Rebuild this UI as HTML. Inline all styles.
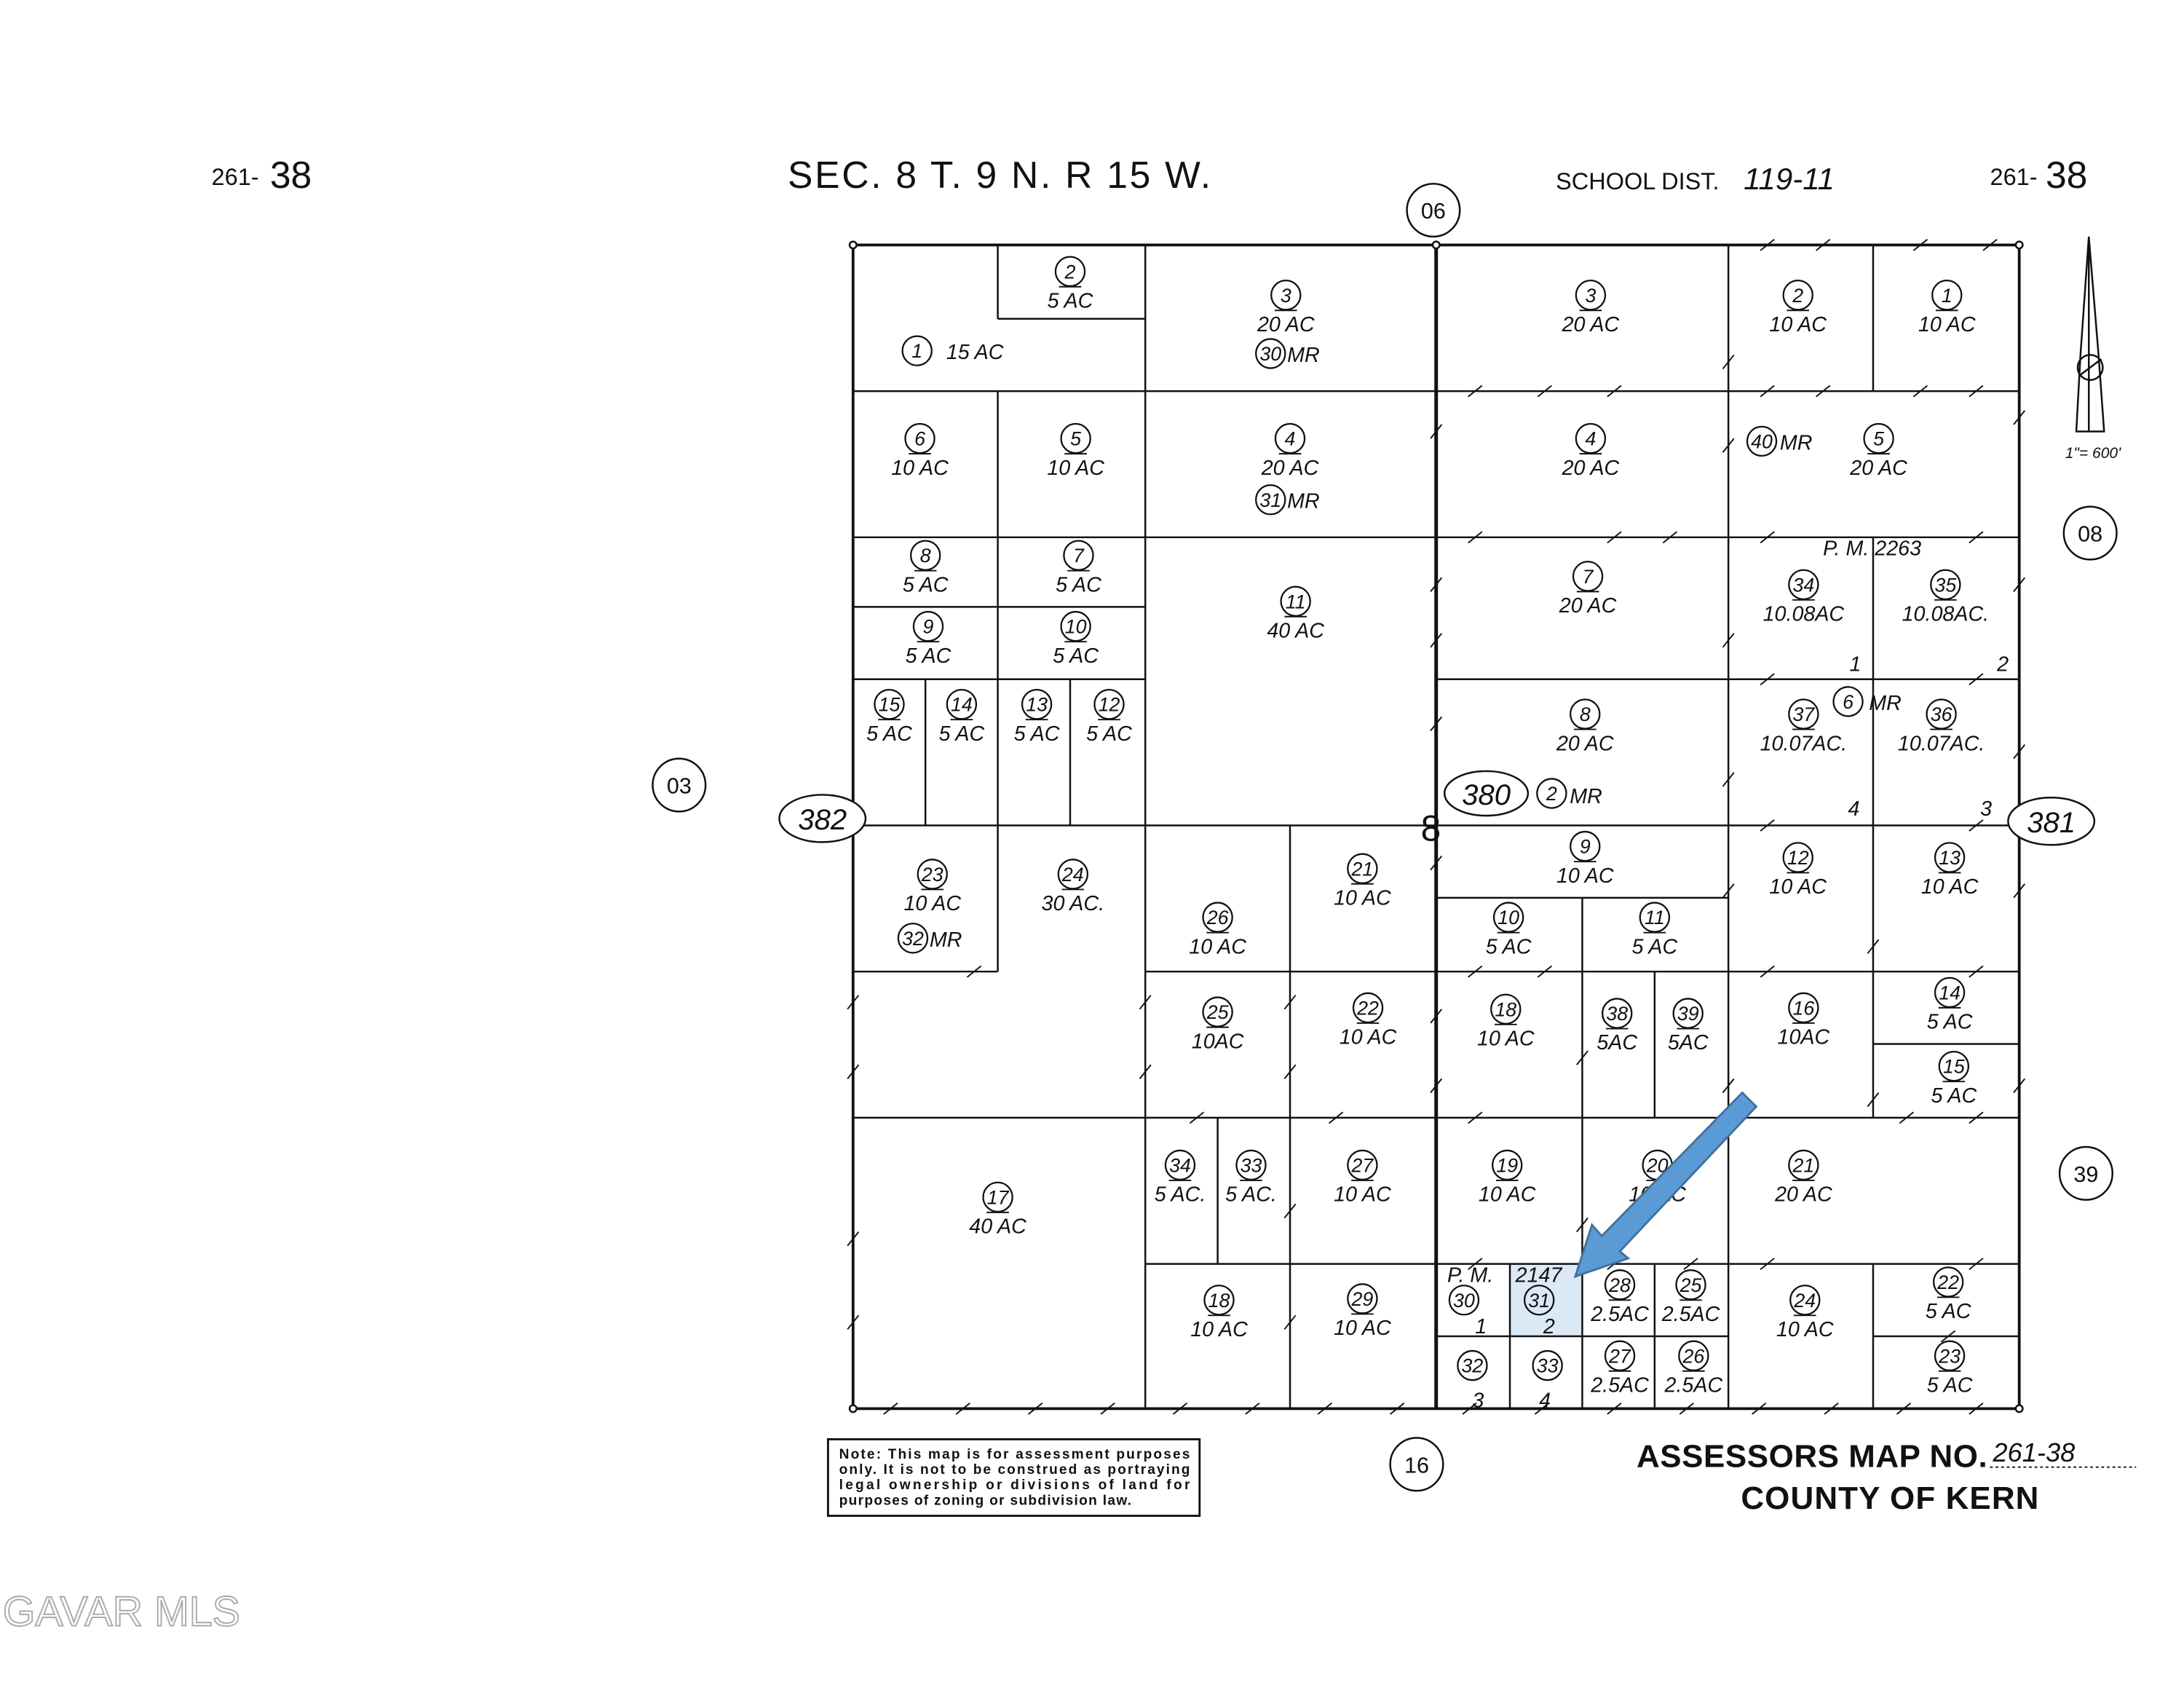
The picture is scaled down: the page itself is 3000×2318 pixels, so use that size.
<!DOCTYPE html>
<html><head><meta charset="utf-8"><style>
html,body{margin:0;padding:0;background:#fff;}
svg{display:block;}
text{font-family:"Liberation Sans",sans-serif;fill:#111;}
.i{font-style:italic;}
</style></head><body>
<svg id="s" width="3000" height="2318" viewBox="0 0 1569.4 1212.7" preserveAspectRatio="none" xmlns="http://www.w3.org/2000/svg">
<rect x="1085" y="908" width="52" height="52" fill="#dbe8f6"/>
<g id="L" stroke="#111" fill="none" stroke-width="1.3"></g>
<g id="T"></g>
<text x="152" y="133" font-size="17">261-</text><text x="194" y="135" font-size="27">38</text>
<text x="566" y="135" font-size="27" textLength="304">SEC. 8  T. 9 N. R 15 W.</text>
<text x="1118" y="136" font-size="17">SCHOOL DIST.</text><text x="1253" y="136" font-size="22" class="i">119-11</text>
<text x="1430" y="133" font-size="17">261-</text><text x="1470" y="135" font-size="27">38</text>
<text x="1021" y="604" font-size="26">8</text>
<g stroke="#111" fill="none" stroke-width="1.3">
<path d="M1501 170 L1495 255 L1492 310 L1512 310 L1508 255 Z"/>
<circle cx="1502" cy="264" r="9"/>
<line x1="1494" y1="270" x2="1510" y2="258"/>
<line x1="1501" y1="170" x2="1501" y2="310"/>
</g>
<text x="1484" y="329" font-size="11" class="i">1"= 600'</text>
<rect x="595" y="1034" width="267" height="55" fill="none" stroke="#111" stroke-width="1.5"/>
<g font-size="10" font-weight="bold">
<text x="603" y="1048" textLength="252">Note: This map is for assessment purposes</text>
<text x="603" y="1059" textLength="252">only. It is not to be construed as portraying</text>
<text x="603" y="1070" textLength="252">legal ownership or divisions of land for</text>
<text x="603" y="1081" textLength="210">purposes of zoning or subdivision law.</text>
</g>
<text x="1176" y="1054" font-size="23" font-weight="bold" textLength="252">ASSESSORS MAP NO.</text>
<text x="1432" y="1050" font-size="19" class="i">261-38</text>
<line x1="1430" y1="1054" x2="1535" y2="1054" stroke="#111" stroke-dasharray="2,2"/>
<text x="1251" y="1084" font-size="23" font-weight="bold" textLength="214">COUNTY OF KERN</text>
<text x="2" y="1168" font-size="30" fill="none" stroke="#aaa" stroke-width="1" style="fill:none">GAVAR MLS</text>
<polygon points="1252,785 1262,795 1164,899 1170,904 1132,917 1144,880 1151,888" fill="#5b9bd5" stroke="#41719c" stroke-width="1.5"/>
</svg>
<script>
var NS="http://www.w3.org/2000/svg";
var L=document.getElementById('L'),T=document.getElementById('T');
function el(p,tag,a,txt){var e=document.createElementNS(NS,tag);for(var k in a)e.setAttribute(k,a[k]);if(txt!=null)e.textContent=txt;p.appendChild(e);return e;}
function ln(x1,y1,x2,y2,w){el(L,'line',{x1:x1,y1:y1,x2:x2,y2:y2,'stroke-width':w||1.3});}
el(L,'rect',{x:613,y:176,width:838,height:836,'stroke-width':2});
ln(1032,176,1032,1012,2.6);
var H=[[613,1451,281],[613,1451,386],[613,823,436],[613,823,488],[1242,1451,488],[1032,1242,488],[613,1451,593],[1032,1242,645],[613,717,698],[823,1451,698],[1346,1451,750],[613,1451,803],[823,1451,908],[1032,1242,960],[1346,1451,960],[717,823,229]];
H.forEach(function(h){ln(h[0],h[2],h[1],h[2]);});
var V=[[823,176,1012],[717,176,229],[717,281,488],[665,488,593],[717,488,698],[769,488,593],[927,593,1012],[875,803,908],[1242,176,1012],[1346,176,281],[1346,386,803],[1346,908,1012],[1137,645,1012],[1189,698,803],[1189,908,1012],[1085,908,1012]];
V.forEach(function(v){ln(v[0],v[1],v[0],v[2]);});
var ticks=[];
for(var x=640;x<1451;x+=52){ticks.push([x,1012]);}
[[700,698],[1060,281],[1110,281],[1160,281],[1270,386],[1420,386],[1270,593],[1420,593],[1060,698],[1110,698],[1270,698],[1420,698],[1060,908],[1160,908],[1215,908],[1270,908],[1420,908],[860,803],[960,803],[1060,803],[1370,803],[1420,803],[1270,176],[1310,176],[1380,176],[1430,176],[1270,281],[1310,281],[1380,281],[1420,281],[1400,960],[1270,488],[1420,488],[1060,386],[1160,386],[1200,386]].forEach(function(t){ticks.push(t);});
ticks.forEach(function(t){ln(t[0]-5,t[1]+4,t[0]+5,t[1]-4,1);});
var vt=[[613,720],[613,770],[613,890],[613,950],[823,720],[823,770],[927,720],[927,770],[927,870],[927,950],[1032,310],[1032,420],[1032,460],[1032,520],[1032,620],[1032,730],[1032,780],[1137,760],[1137,880],[1242,260],[1242,320],[1242,460],[1242,560],[1242,640],[1242,780],[1451,300],[1451,420],[1451,540],[1451,640],[1451,780],[1346,680],[1346,790]];
vt.forEach(function(t){ln(t[0]-4,t[1]+5,t[0]+4,t[1]-5,1);});
[[613,176],[1032,176],[1451,176],[613,1012],[1451,1012]].forEach(function(c){el(L,'circle',{cx:c[0],cy:c[1],r:2.5,fill:'#fff'});});
var P=[[769,195,'2','5 AC'],[659,252,'1',null],[924,212,'3','20 AC'],[661,315,'6','10 AC'],[773,315,'5','10 AC'],[927,315,'4','20 AC'],
[665,399,'8','5 AC'],[775,399,'7','5 AC'],[667,450,'9','5 AC'],[773,450,'10','5 AC'],[931,432,'11','40 AC'],
[639,506,'15','5 AC'],[691,506,'14','5 AC'],[745,506,'13','5 AC'],[797,506,'12','5 AC'],
[670,628,'23','10 AC'],[771,628,'24','30 AC.'],[875,659,'26','10 AC'],[979,624,'21','10 AC'],[875,727,'25','10AC'],[983,724,'22','10 AC'],
[848,837,'34','5 AC.'],[899,837,'33','5 AC.'],[979,837,'27','10 AC'],[717,860,'17','40 AC'],[876,934,'18','10 AC'],[979,933,'29','10 AC'],
[1143,212,'3','20 AC'],[1292,212,'2','10 AC'],[1399,212,'1','10 AC'],[1143,315,'4','20 AC'],[1350,315,'5','20 AC'],
[1141,414,'7','20 AC'],[1296,420,'34','10.08AC'],[1398,420,'35','10.08AC.'],[1139,513,'8','20 AC'],[1296,513,'37','10.07AC.'],[1395,513,'36','10.07AC.'],
[1139,608,'9','10 AC'],[1292,616,'12','10 AC'],[1401,616,'13','10 AC'],[1084,659,'10','5 AC'],[1189,659,'11','5 AC'],
[1082,725,'18','10 AC'],[1162,728,'38','5AC'],[1213,728,'39','5AC'],[1296,724,'16','10AC'],[1401,713,'14','5 AC'],[1404,766,'15','5 AC'],
[1083,837,'19','10 AC'],[1191,837,'20','10 AC'],[1296,837,'21','20 AC'],[1164,923,'28','2.5AC'],[1215,923,'25','2.5AC'],
[1297,934,'24','10 AC'],[1400,921,'22','5 AC'],[1164,974,'27','2.5AC'],[1217,974,'26','2.5AC'],[1401,974,'23','5 AC'],
[1052,934,'30',null],[1106,934,'31',null],[1058,981,'32',null],[1112,981,'33',null]];
function circ(cx,cy,n,r){el(T,'circle',{cx:cx,cy:cy,r:r||10.5,fill:'none',stroke:'#111','stroke-width':1.2});el(T,'text',{x:cx,y:cy+5,'font-size':14,'text-anchor':'middle','class':'i'},n);}
P.forEach(function(p){circ(p[0],p[1],p[2]);if(p[3]){el(T,'line',{x1:p[0]-8,y1:p[1]+11,x2:p[0]+8,y2:p[1]+11,stroke:'#111','stroke-width':1});el(T,'text',{x:p[0],y:p[1]+26,'font-size':15,'text-anchor':'middle','class':'i'},p[3]);}});
function tx(x,y,s,fs){el(T,'text',{x:x,y:y,'font-size':fs||15,'class':'i'},s);}
tx(680,258,'15 AC');
circ(913,254,'30');tx(925,260,'MR');circ(913,359,'31');tx(925,365,'MR');
circ(656,674,'32');tx(668,680,'MR');
circ(1266,317,'40');tx(1279,323,'MR');circ(1328,504,'6');tx(1343,510,'MR');
tx(1310,399,'P. M. 2263');tx(1329,482,'1');tx(1435,482,'2');tx(1328,586,'4');tx(1423,586,'3');
el(T,'ellipse',{cx:1068,cy:570,rx:30,ry:16,fill:'none',stroke:'#111','stroke-width':1.3});
el(T,'text',{x:1068,y:578,'font-size':21,'text-anchor':'middle','class':'i'},'380');
circ(1115,570,'2');tx(1128,577,'MR');
tx(1040,921,'P. M.');tx(1089,921,'2147');tx(1060,958,'1');tx(1109,958,'2');tx(1058,1011,'3');tx(1106,1011,'4');
function bc(cx,cy,n){el(T,'circle',{cx:cx,cy:cy,r:19,fill:'none',stroke:'#111','stroke-width':1.3});el(T,'text',{x:cx,y:cy+6,'font-size':16,'text-anchor':'middle'},n);}
bc(1030,151,'06');bc(1502,383,'08');bc(488,564,'03');bc(1499,843,'39');bc(1018,1052,'16');
function oe(cx,cy,n){el(T,'ellipse',{cx:cx,cy:cy,rx:31,ry:17,fill:'#fff',stroke:'#111','stroke-width':1.3});el(T,'text',{x:cx,y:cy+8,'font-size':21,'text-anchor':'middle','class':'i'},n);}
oe(591,588,'382');oe(1474,590,'381');
</script>
</body></html>
